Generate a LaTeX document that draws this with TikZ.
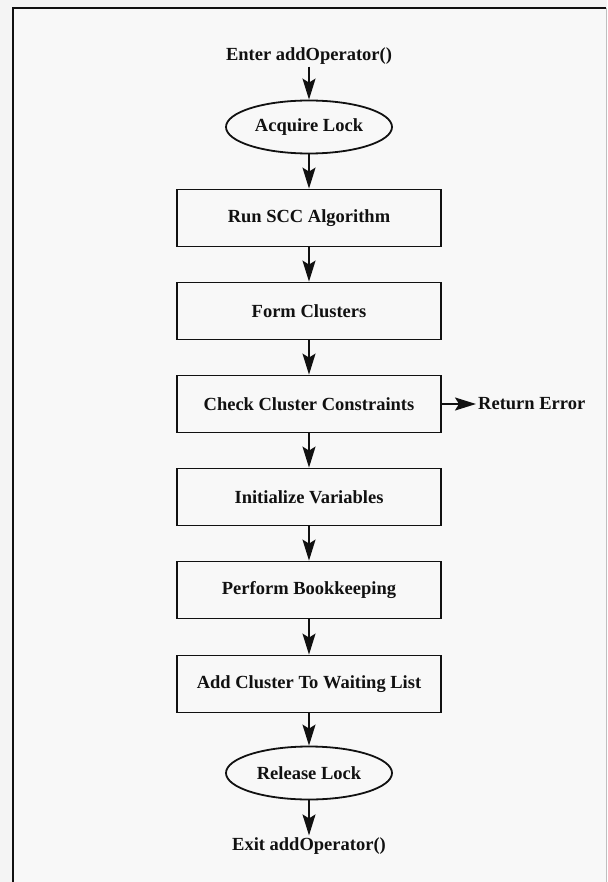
\documentclass[tikz,border=0pt]{standalone}
\usepackage{fontspec}
\setmainfont{Liberation Serif}
\usetikzlibrary{shapes.geometric,arrows.meta}
\definecolor{pagebg}{HTML}{F4F4F4}
\definecolor{panelbg}{HTML}{F8F8F8}
\definecolor{inkline}{HTML}{111111}
\begin{document}
\begin{tikzpicture}[x=1pt,y=1pt,
  every node/.style={font=\fontsize{18.5}{22}\selectfont\bfseries, text=inkline},
  stepbox/.style={draw=inkline, line width=1.8pt, rectangle, minimum width=264pt, minimum height=57pt, inner sep=0pt},
  lockoval/.style={draw=inkline, line width=1.8pt, ellipse, minimum width=166pt, minimum height=53pt, inner sep=0pt},
  label/.style={inner sep=2pt},
  flow/.style={draw=inkline, line width=1.8pt, -{Stealth[length=21pt,width=13pt,inset=4pt]}}]
% page and panel frame
\useasboundingbox (0,0) rectangle (607,-882);
\fill[pagebg] (0,0) rectangle (607,-882);
\fill[panelbg] (13,-8) rectangle (606,-882);
\draw[inkline, line width=1.4pt] (13,-882) -- (13,-8) -- (606,-8);
\draw[black!25, line width=1pt] (606,-8) -- (606,-882);

% flow of addOperator()
\node[label] (enter) at (309,-56) {Enter addOperator()};
\node[lockoval] (acquire) at (309,-127) {Acquire Lock};
\node[stepbox] (scc) at (309,-218) {Run SCC Algorithm};
\node[stepbox] (form) at (309,-311) {Form Clusters};
\node[stepbox] (check) at (309,-404) {Check Cluster Constraints};
\node[stepbox] (init) at (309,-497) {Initialize Variables};
\node[stepbox] (book) at (309,-590) {Perform Bookkeeping};
\node[stepbox] (wait) at (309,-684) {Add Cluster To Waiting List};
\node[lockoval] (release) at (309,-773) {Release Lock};
\node[label] (exit) at (309,-846) {Exit addOperator()};
\node[label, anchor=west] (error) at (476,-404) {Return Error};

\draw[flow] (enter) -- (acquire);
\draw[flow] (acquire) -- (scc);
\draw[flow] (scc) -- (form);
\draw[flow] (form) -- (check);
\draw[flow] (check) -- (init);
\draw[flow] (init) -- (book);
\draw[flow] (book) -- (wait);
\draw[flow] (wait) -- (release);
\draw[flow] (release) -- (exit);
\draw[flow] (check) -- (error);
\end{tikzpicture}
\end{document}
